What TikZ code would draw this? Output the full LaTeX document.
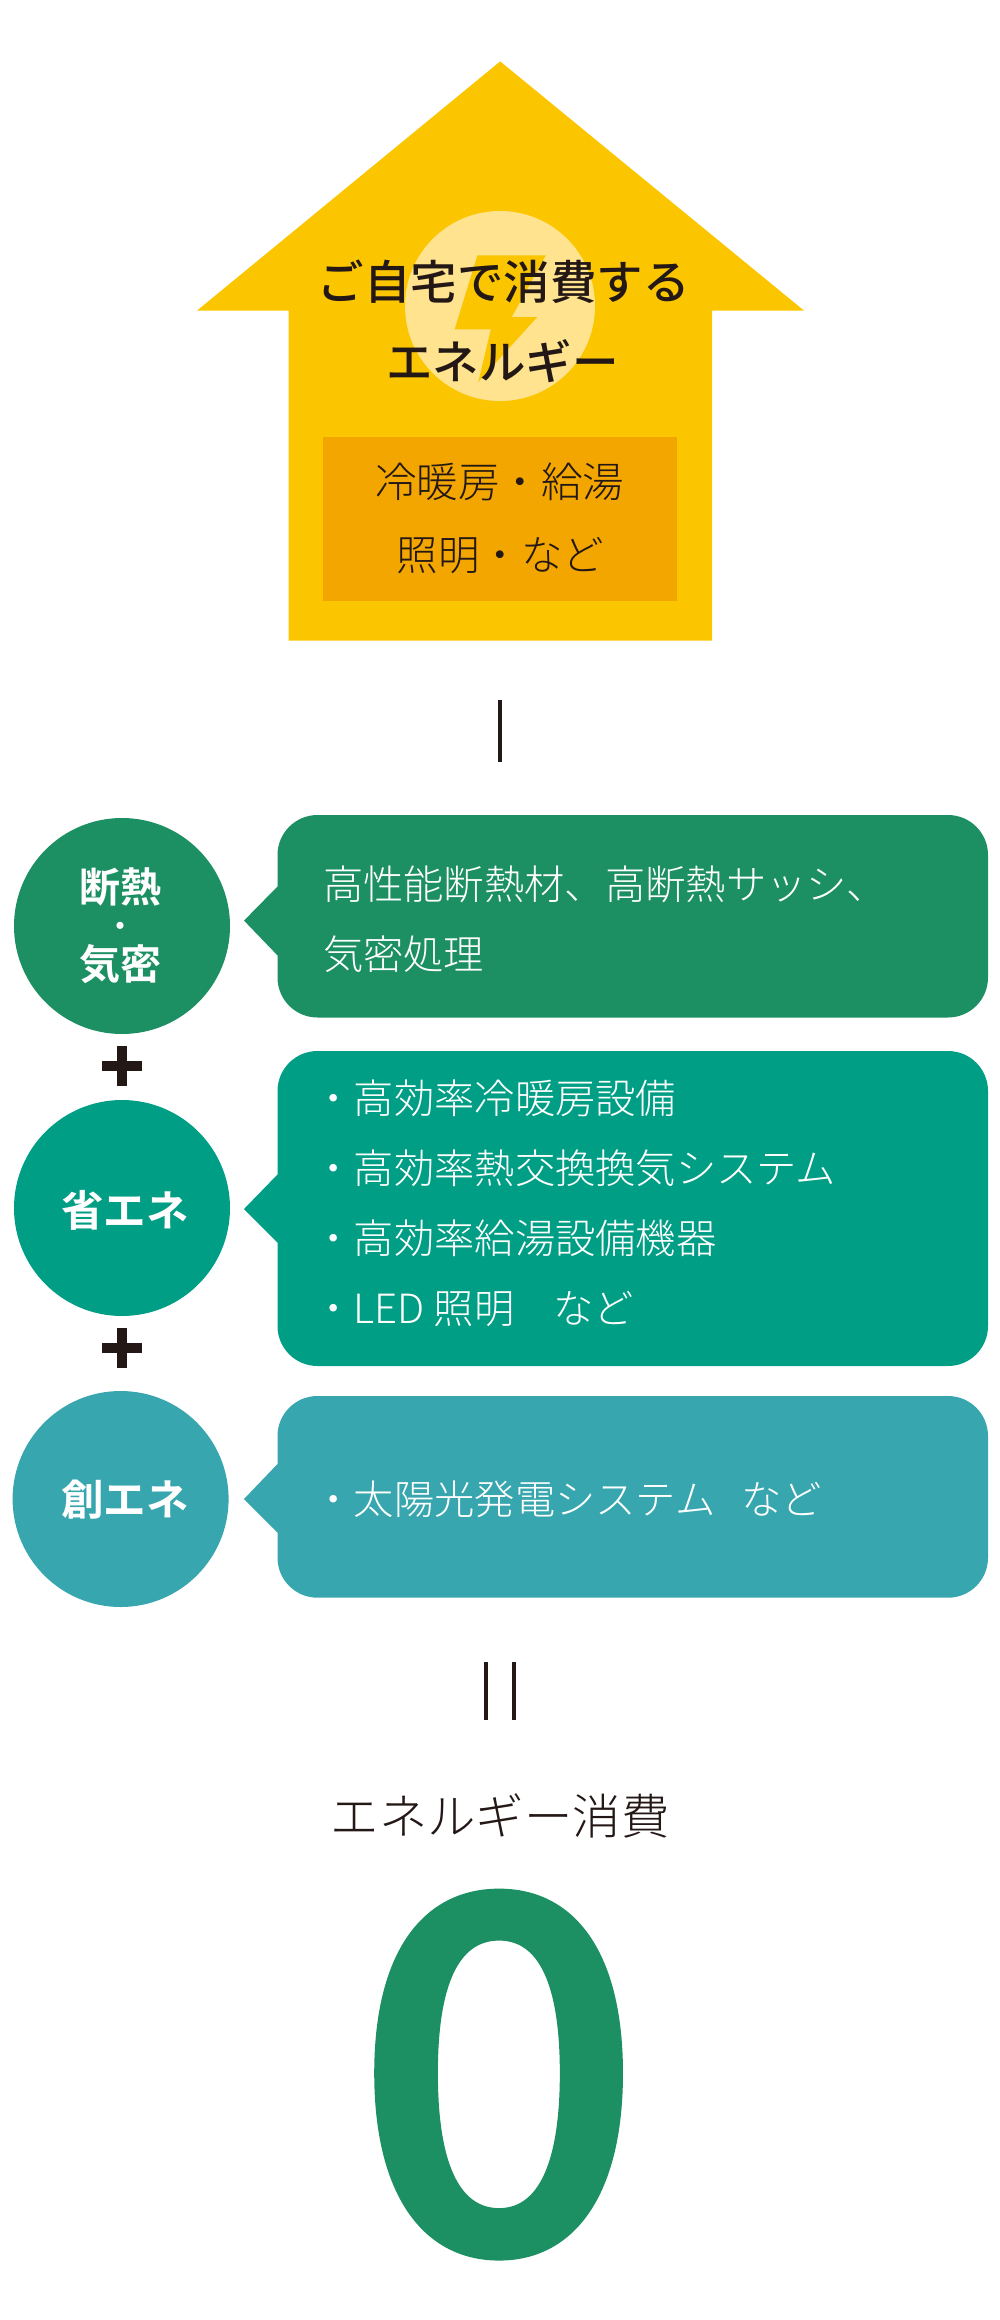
\documentclass[tikz,border=0pt]{standalone}
\usepackage{fontspec}
\setmainfont{Noto Sans CJK JP}
\newfontfamily\ltfont{Noto Sans CJK JP Light}
\newfontfamily\bdfont{Noto Sans CJK JP Bold}
\newfontfamily\mdfont{Noto Sans CJK JP Medium}
\newfontfamily\zerofont[FakeBold=1.5,FakeStretch=1.035]{Noto Sans CJK JP Medium}
\definecolor{inkc}{HTML}{231815}
\definecolor{housec}{HTML}{FBC600}
\definecolor{innerc}{HTML}{F4A600}
\definecolor{paleC}{HTML}{FFE38F}
\definecolor{greenc}{HTML}{1C8F63}
\definecolor{tealc}{HTML}{009E85}
\definecolor{bluec}{HTML}{38A6AE}
\tikzset{
  txt/.style={anchor=base,inner sep=0pt,outer sep=0pt},
  titletxt/.style={txt,text=inkc,font=\mdfont\fontsize{46.5}{46.5}\selectfont},
  innertxt/.style={txt,text=inkc,font=\ltfont\fontsize{41.5}{41.5}\selectfont},
  bubbletxt/.style={txt,anchor=base west,text=white,font=\ltfont\fontsize{40.3}{40.3}\selectfont},
  circtxt/.style={txt,text=white,font=\bdfont\fontsize{41}{41}\selectfont},
  circwide/.style={txt,text=white,font=\bdfont\fontsize{42.5}{42.5}\selectfont},
  bar/.style={inkc,line width=4pt},
  plusbar/.style={inkc,line width=10pt},
  disc/.style={circle,minimum size=216pt,inner sep=0pt,outer sep=0pt}
}
\begin{document}
\begin{tikzpicture}[x=1pt,y=-1pt]
\useasboundingbox (0,0) rectangle (1000,2320);
% house
\fill[housec] (500.2,61.4) -- (804,310.6) -- (712,310.6) -- (712,640.6) -- (288.5,640.6) -- (288.5,310.6) -- (197,310.6) -- cycle;
\fill[paleC] (500,306) circle (95);
\fill[housec] (477.4,255.4) -- (545.8,255.4) -- (511.8,317) -- (537.3,317) -- (478.3,382) -- (490.8,329.4) -- (454.6,329.4) -- cycle;
\fill[innerc] (323.3,437) rectangle (677,600.5);
\node[titletxt] (t1) at (503.6,299) {ご自宅で消費する};
\node[titletxt] (t2) at (502.5,379) {エネルギー};
\node[innertxt] (i1) at (499.5,497) {冷暖房・給湯};
\node[innertxt] (i2) at (500.5,570) {照明・など};
% minus
\coordinate (m1) at (500,700); \coordinate (m2) at (500,762);
\draw[bar] (m1) -- (m2);
% circles
\node[disc,fill=greenc] (c1) at (122,926) {};
\node[disc,fill=tealc] (c2) at (122,1208) {};
\node[disc,fill=bluec] (c3) at (120.6,1499) {};
\node[circtxt] (c1a) at (120.6,902) {断熱};
\node[txt,text=white,font=\bdfont\fontsize{28}{28}\selectfont] (c1b) at (120.6,936) {・};
\node[circtxt] (c1c) at (120.6,979) {気密};
\node[circwide] (c2a) at (125,1226) {省エネ};
\node[circwide] (c3a) at (125,1515) {創エネ};
% plus
\coordinate (p1t) at (122,1046); \coordinate (p1b) at (122,1086);
\coordinate (p1l) at (102,1066); \coordinate (p1r) at (142,1066);
\draw[plusbar] (p1t) -- (p1b) (p1l) -- (p1r);
\coordinate (p2t) at (122,1327.5); \coordinate (p2b) at (122,1367.5);
\coordinate (p2l) at (102,1347.5); \coordinate (p2r) at (142,1347.5);
\draw[plusbar] (p2t) -- (p2b) (p2l) -- (p2r);
% bubbles
\fill[greenc] (244,920.6) -- (277.5,886.5) -- (277.5,855) arc[start angle=180,end angle=90,x radius=40,y radius=-40] -- (948,815) arc[start angle=90,end angle=0,x radius=40,y radius=-40] -- (988,977.5) arc[start angle=0,end angle=-90,x radius=40,y radius=-40] -- (317.5,1017.5) arc[start angle=-90,end angle=-180,x radius=40,y radius=-40] -- (277.5,955.4) -- cycle;
\fill[tealc] (244,1209) -- (277.5,1174.5) -- (277.5,1091) arc[start angle=180,end angle=90,x radius=40,y radius=-40] -- (948,1051) arc[start angle=90,end angle=0,x radius=40,y radius=-40] -- (988,1326) arc[start angle=0,end angle=-90,x radius=40,y radius=-40] -- (317.5,1366) arc[start angle=-90,end angle=-180,x radius=40,y radius=-40] -- (277.5,1242.7) -- cycle;
\fill[bluec] (244,1499) -- (277.5,1464) -- (277.5,1436) arc[start angle=180,end angle=90,x radius=40,y radius=-40] -- (948,1396) arc[start angle=90,end angle=0,x radius=40,y radius=-40] -- (988,1557.7) arc[start angle=0,end angle=-90,x radius=40,y radius=-40] -- (317.5,1597.7) arc[start angle=-90,end angle=-180,x radius=40,y radius=-40] -- (277.5,1532.6) -- cycle;
\node[bubbletxt] (b1a) at (323,899) {高性能断熱材、高断熱サッシ、};
\node[bubbletxt] (b1b) at (323,969) {気密処理};
\node[bubbletxt] (b2a) at (313.5,1113) {・高効率冷暖房設備};
\node[bubbletxt] (b2b) at (313.5,1183) {・高効率熱交換換気システム};
\node[bubbletxt] (b2c) at (313.5,1253) {・高効率給湯設備機器};
\node[bubbletxt] (b2d) at (313.5,1323.5) {・LED 照明\hspace*{39pt}など};
\node[bubbletxt] (b3a) at (313.5,1514) {・太陽光発電システム\hspace*{26pt}など};
% equals
\coordinate (e1) at (486,1662); \coordinate (e2) at (486,1719.6);
\coordinate (e3) at (514,1662); \coordinate (e4) at (514,1719.6);
\draw[bar] (e1) -- (e2) (e3) -- (e4);
\node[txt,text=inkc,font=\ltfont\fontsize{48.4}{48.4}\selectfont] (r) at (500,1834) {エネルギー消費};
\node[txt,text=greenc,font=\zerofont\fontsize{490}{490}\selectfont] (z) at (498.6,2250) {0};
\end{tikzpicture}
\end{document}
